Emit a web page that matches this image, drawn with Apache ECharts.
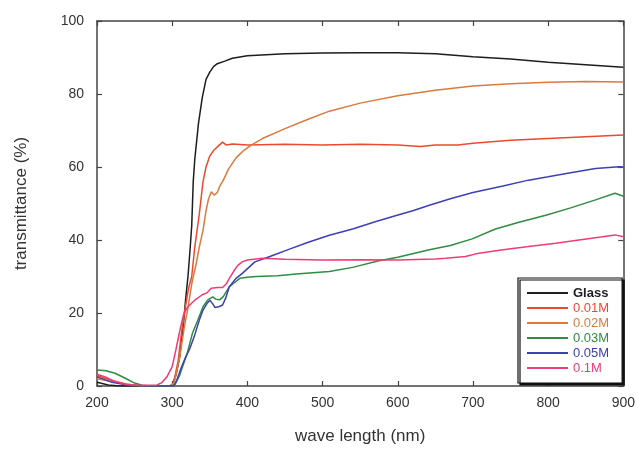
<!DOCTYPE html>
<html>
<head>
<meta charset="utf-8">
<script src="https://cdn.jsdelivr.net/npm/echarts@6/dist/echarts.min.js"></script>
<style>
  html, body { margin: 0; padding: 0; background: #fff; }
  #main { width: 638px; height: 450px; }
</style>
</head>
<body>
<div id="main"></div>
<script>
// [wavelength nm, transmittance %]
const glass = [[200,1],[215,0.3],[230,0],[295,0],[300,0.3],[305,3],[310,8],[315,17],[318,24],[321,30],[324,38],[326,44],[328,56],[330,62],[335,72],[340,79],[345,84],[350,86],[355,87.5],[360,88.3],[370,89],[380,89.8],[400,90.5],[450,91],[500,91.2],[550,91.3],[600,91.3],[650,91],[700,90.2],[750,89.6],[800,88.7],[850,88],[900,87.3]];
const m001 = [[200,2.9],[220,1.5],[240,0.5],[260,0],[298,0],[302,1],[308,7],[312,14],[317,21],[322,27],[326,30],[330,38],[336,47],[341,56],[345,60],[350,63],[355,64.5],[360,65.5],[367,66.8],[372,66],[380,66.3],[400,66],[450,66.2],[500,66],[550,66.2],[600,66],[630,65.6],[650,66],[680,66],[700,66.5],[750,67.3],[800,67.8],[850,68.3],[900,68.8]];
const m002 = [[200,2],[240,0.5],[260,0],[298,0],[303,1],[310,8],[316,16],[321,21.4],[326,28],[332,33.6],[336,38],[341,42.7],[345,48],[348,51],[352,53.2],[356,52.3],[360,53],[363,54.6],[368,56.4],[375,59.5],[385,62.5],[395,64.5],[405,66],[420,67.8],[450,70.5],[480,73],[509,75.3],[550,77.5],[600,79.5],[650,81],[700,82.2],[750,82.8],[800,83.2],[850,83.4],[900,83.3]];
const m003 = [[200,4.4],[212,4.2],[224,3.5],[237,2.2],[250,0.8],[260,0.2],[270,0],[300,0],[304,0.5],[310,3],[320,9],[327,14.5],[334,18],[341,21.7],[347,23.5],[354,24.4],[358,23.8],[363,23.6],[368,24.5],[376,27.2],[390,29.5],[400,29.8],[412,30],[440,30.2],[465,30.7],[509,31.4],[540,32.5],[575,34.3],[600,35.3],[642,37.3],[670,38.5],[699,40.3],[730,43],[760,44.8],[797,46.8],[830,48.8],[863,51],[889,52.8],[900,52]];
const m005 = [[200,2.5],[220,1],[240,0.3],[260,0],[302,0],[306,1.5],[312,5],[318,8],[323,10],[330,14],[336,18],[341,20.8],[346,22.5],[350,23.5],[354,22.5],[357,21.5],[362,21.7],[367,22.2],[371,24],[376,27.2],[385,29.5],[394,31],[410,34],[430,35.5],[456,37.5],[480,39.3],[509,41.3],[540,43],[570,45],[598,46.7],[620,48],[642,49.5],[670,51.3],[700,53],[740,54.8],[774,56.4],[800,57.3],[830,58.4],[863,59.6],[894,60.1],[900,60]];
const m01 = [[200,3.2],[211,2.5],[224,1.2],[237,0.5],[250,0.2],[280,0.3],[286,0.9],[293,2.5],[300,5.3],[305,10],[310,15],[315,19.5],[320,21.5],[330,23.5],[340,25],[346,25.5],[352,26.8],[360,27],[367,27],[372,28],[376,29.5],[382,31.5],[387,33],[393,34],[400,34.5],[420,35],[450,34.7],[500,34.5],[550,34.6],[600,34.5],[650,34.8],[664,35],[690,35.5],[708,36.4],[740,37.3],[774,38.2],[810,39.1],[841,40],[870,40.8],[889,41.4],[900,40.9]];

const names = ['Glass', '0.01M', '0.02M', '0.03M', '0.05M', '0.1M'];
const colors = ['#1e1e1e', '#ea4a30', '#d97a3e', '#2f8c42', '#3d40b4', '#ef3c74'];
const seriesData = [glass, m001, m002, m003, m005, m01];

const chart = echarts.init(document.getElementById('main'));

const font = '"Liberation Sans", Arial, sans-serif';
const axisLine = { show: true, onZero: false, lineStyle: { color: '#444', width: 1.5 } };
const tick = { show: true, inside: true, length: 5, lineStyle: { color: '#444', width: 1.2 } };

const option = {
  animation: false,
  backgroundColor: '#fff',
  grid: { left: 97, right: 13, top: 21, bottom: 64 },
  xAxis: [
    {
      type: 'value', min: 200, max: 900, interval: 100,
      name: 'wave length (nm)', nameLocation: 'middle', nameGap: 42,
      nameTextStyle: { fontFamily: font, fontSize: 17, color: '#333' },
      axisLine: axisLine, axisTick: tick, splitLine: { show: false },
      axisLabel: { fontFamily: font, fontSize: 14, color: '#333', margin: 10 }
    },
    {
      type: 'value', min: 200, max: 900, interval: 100, position: 'top',
      axisLine: axisLine, axisTick: tick, splitLine: { show: false },
      axisLabel: { show: false }
    }
  ],
  yAxis: [
    {
      type: 'value', min: 0, max: 100, interval: 20,
      name: 'transmittance (%)', nameLocation: 'middle', nameGap: 67,
      nameTextStyle: { fontFamily: font, fontSize: 17, color: '#333' },
      axisLine: axisLine, axisTick: tick, splitLine: { show: false },
      axisLabel: { fontFamily: font, fontSize: 14, color: '#333', margin: 13 }
    },
    {
      type: 'value', min: 0, max: 100, interval: 20, position: 'right',
      axisLine: axisLine, axisTick: tick, splitLine: { show: false },
      axisLabel: { show: false }
    }
  ],
  legend: {
    orient: 'vertical',
    left: 518, top: 278,
    padding: [8, 13, 8, 9],
    backgroundColor: '#fff',
    borderColor: '#111', borderWidth: 1.2,
    shadowColor: '#111', shadowBlur: 0, shadowOffsetX: 2, shadowOffsetY: 2,
    icon: 'rect', itemWidth: 41, itemHeight: 2, itemGap: 1,
    textStyle: { fontFamily: font, fontSize: 13, lineHeight: 14 },
    data: names.map(function (n, i) {
      return { name: n, textStyle: { color: colors[i], fontWeight: i === 0 ? 'bold' : 'normal' } };
    })
  },
  series: names.map(function (n, i) {
    return {
      name: n, type: 'line', symbol: 'none', smooth: false,
      color: colors[i],
      lineStyle: { width: 1.5, color: colors[i] },
      data: seriesData[i]
    };
  })
};

chart.setOption(option);
</script>
</body>
</html>
